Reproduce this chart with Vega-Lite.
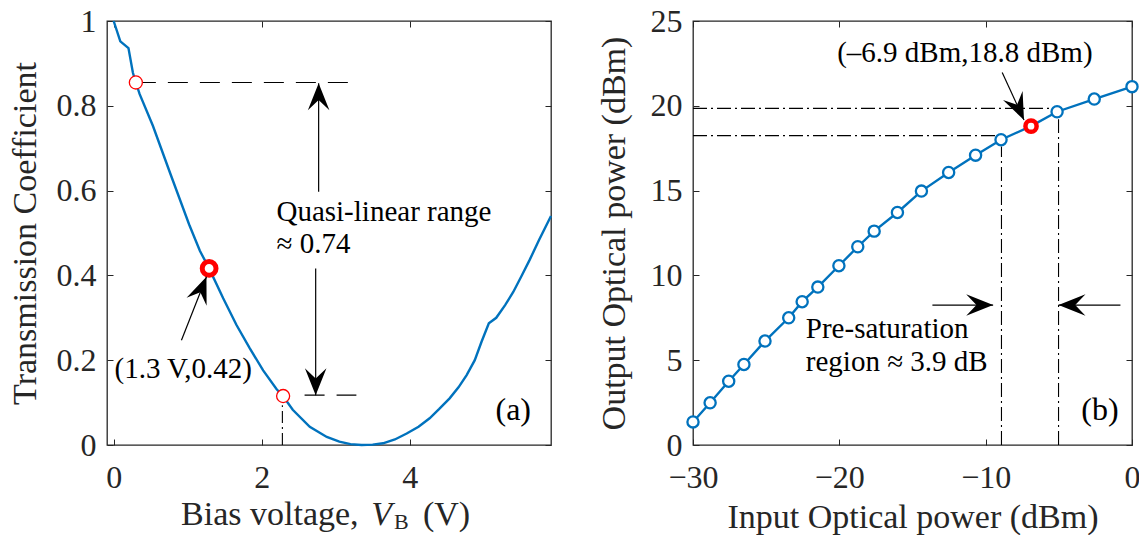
{
  "$schema": "https://vega.github.io/schema/vega-lite/v6.json",
  "background": "white",
  "padding": {"left": 7, "top": 4, "right": 0, "bottom": 0},
  "spacing": 39,
  "datasets": {
    "transmission": [
      {"v": 0.0, "t": 1.0}, {"v": 0.09, "t": 0.952}, {"v": 0.2, "t": 0.936}, {"v": 0.26, "t": 0.878},
      {"v": 0.3, "t": 0.855}, {"v": 0.35, "t": 0.828}, {"v": 0.53, "t": 0.753}, {"v": 0.77, "t": 0.638},
      {"v": 1.02, "t": 0.52}, {"v": 1.165, "t": 0.458}, {"v": 1.29, "t": 0.4165}, {"v": 1.48, "t": 0.346},
      {"v": 1.66, "t": 0.283}, {"v": 1.84, "t": 0.228}, {"v": 2.02, "t": 0.176}, {"v": 2.2, "t": 0.132},
      {"v": 2.29, "t": 0.115}, {"v": 2.42, "t": 0.083}, {"v": 2.65, "t": 0.043}, {"v": 2.88, "t": 0.019},
      {"v": 3.05, "t": 0.008}, {"v": 3.2, "t": 0.002}, {"v": 3.35, "t": 0.0}, {"v": 3.5, "t": 0.001},
      {"v": 3.64, "t": 0.004}, {"v": 3.8, "t": 0.013}, {"v": 3.96, "t": 0.027}, {"v": 4.12, "t": 0.043},
      {"v": 4.27, "t": 0.063}, {"v": 4.4, "t": 0.085}, {"v": 4.54, "t": 0.11}, {"v": 4.66, "t": 0.136},
      {"v": 4.77, "t": 0.165}, {"v": 4.88, "t": 0.2}, {"v": 4.97, "t": 0.243}, {"v": 5.07, "t": 0.287},
      {"v": 5.17, "t": 0.3}, {"v": 5.29, "t": 0.33}, {"v": 5.4, "t": 0.361}, {"v": 5.51, "t": 0.398},
      {"v": 5.62, "t": 0.436}, {"v": 5.75, "t": 0.484}, {"v": 5.91, "t": 0.54}
    ],
    "leftDashed": [
      {"v1": 0.3, "v2": 3.18, "t": 0.855},
      {"v1": 2.58, "v2": 3.28, "t": 0.1175}
    ],
    "leftDashDot": [
      {"v": 2.28, "t1": 0.0, "t2": 0.094}
    ],
    "leftRangeEnds": [
      {"v": 0.3, "t": 0.855},
      {"v": 2.29, "t": 0.1155}
    ],
    "leftBias": [
      {"v": 1.29, "t": 0.4165}
    ],
    "leftShafts": [
      {"v1": 2.77, "t1": 0.597, "v2": 2.77, "t2": 0.853},
      {"v1": 2.73, "t1": 0.4165, "v2": 2.73, "t2": 0.1175},
      {"v1": 0.916, "t1": 0.247, "v2": 1.254, "t2": 0.397}
    ],
    "leftHeadUp": [{"v": 2.77, "t": 0.853}],
    "leftHeadDown": [{"v": 2.73, "t": 0.1175}],
    "leftHeadDiag": [{"v": 1.254, "t": 0.397}],
    "leftNotes": [
      {"v": 2.2, "t": 0.528, "label": "Quasi-linear range"},
      {"v": 2.2, "t": 0.452, "label": "≈ 0.74"}
    ],
    "leftBiasNote": [{"v": 0.94, "t": 0.157, "label": "(1.3 V,0.42)"}],
    "leftPanelTag": [{"v": 5.64, "t": 0.0585, "label": "(a)"}],
    "leftTitleMain": [{"v": 3.31, "t": -0.189, "label": "Bias voltage,"}],
    "leftTitleVar": [{"v": 3.48, "t": -0.189, "label": "V"}],
    "leftTitleSub": [{"v": 3.79, "t": -0.197, "label": "B"}],
    "leftTitleUnit": [{"v": 4.18, "t": -0.189, "label": "(V)"}],
    "power": [
      {"pin": -30.0, "pout": 1.36}, {"pin": -28.83, "pout": 2.49}, {"pin": -27.56, "pout": 3.76},
      {"pin": -26.52, "pout": 4.75}, {"pin": -25.08, "pout": 6.13}, {"pin": -23.46, "pout": 7.5},
      {"pin": -22.54, "pout": 8.45}, {"pin": -21.47, "pout": 9.31}, {"pin": -20.03, "pout": 10.57},
      {"pin": -18.74, "pout": 11.69}, {"pin": -17.62, "pout": 12.61}, {"pin": -16.03, "pout": 13.71},
      {"pin": -14.39, "pout": 14.97}, {"pin": -12.53, "pout": 16.07}, {"pin": -10.69, "pout": 17.09},
      {"pin": -8.95, "pout": 18.0}, {"pin": -6.9, "pout": 18.8}, {"pin": -5.12, "pout": 19.65},
      {"pin": -2.58, "pout": 20.4}, {"pin": 0.0, "pout": 21.13}
    ],
    "operating": [{"pin": -6.9, "pout": 18.8}],
    "rightGuides": [
      {"x1": -30, "y1": 19.85, "x2": -5.2, "y2": 19.85},
      {"x1": -30, "y1": 18.24, "x2": -9.0, "y2": 18.24},
      {"x1": -8.92, "y1": 0, "x2": -8.92, "y2": 17.6},
      {"x1": -5.02, "y1": 0, "x2": -5.02, "y2": 19.2}
    ],
    "rightShafts": [
      {"x1": -8.87, "y1": 21.97, "x2": -7.38, "y2": 19.16},
      {"x1": -13.64, "y1": 8.25, "x2": -9.49, "y2": 8.25},
      {"x1": -0.79, "y1": 8.25, "x2": -5.02, "y2": 8.25}
    ],
    "rightHeadDiag": [{"pin": -7.38, "pout": 19.16}],
    "rightHeadRight": [{"pin": -9.49, "pout": 8.25}],
    "rightHeadLeft": [{"pin": -5.02, "pout": 8.25}],
    "rightNoteTop": [{"pin": -11.42, "pout": 22.6, "label": "(–6.9 dBm,18.8 dBm)"}],
    "rightNotes": [
      {"pin": -22.29, "pout": 6.28, "label": "Pre-saturation"},
      {"pin": -22.29, "pout": 4.38, "label": "region ≈ 3.9 dB"}
    ],
    "rightPanelTag": [{"pin": -0.92, "pout": 1.46, "label": "(b)"}]
  },
  "hconcat": [
    {
      "width": 444,
      "height": 424,
      "layer": [
        {
          "data": {"name": "leftDashed"},
          "mark": {"type": "rule", "color": "black", "strokeWidth": 1.2, "strokeDash": [20, 12]},
          "encoding": {
            "x": {"field": "v1", "type": "quantitative", "scale": {"domain": [-0.09, 5.91], "nice": false}, "axis": null},
            "x2": {"field": "v2"},
            "y": {"field": "t", "type": "quantitative", "scale": {"domain": [0, 1], "nice": false}, "axis": null}
          }
        },
        {
          "data": {"name": "leftDashDot"},
          "mark": {"type": "rule", "color": "black", "strokeWidth": 1.1, "strokeDash": [12, 4, 2, 4]},
          "encoding": {
            "x": {"field": "v", "type": "quantitative", "axis": null},
            "y": {"field": "t1", "type": "quantitative", "axis": null},
            "y2": {"field": "t2"}
          }
        },
        {
          "data": {"name": "transmission"},
          "mark": {"type": "line", "color": "#0072BD", "strokeWidth": 2.4},
          "encoding": {
            "x": {"field": "v", "type": "quantitative", "scale": {"domain": [-0.09, 5.91], "nice": false},
                  "axis": {"orient": "bottom", "values": [0, 2, 4], "title": null, "labelPadding": 23}},
            "y": {"field": "t", "type": "quantitative", "scale": {"domain": [0, 1], "nice": false},
                  "axis": {"orient": "left", "values": [0, 0.2, 0.4, 0.6, 0.8, 1], "format": "~g", "title": "Transmission Coefficient", "labelPadding": 17, "titlePadding": 14}}
          }
        },
        {
          "data": {"name": "leftRangeEnds"},
          "mark": {"type": "point", "shape": "circle", "filled": true, "fill": "white", "stroke": "#FF0000", "strokeWidth": 1.3, "size": 170, "opacity": 1},
          "encoding": {
            "x": {"field": "v", "type": "quantitative", "axis": null},
            "y": {"field": "t", "type": "quantitative", "axis": null}
          }
        },
        {
          "data": {"name": "leftBias"},
          "mark": {"type": "point", "shape": "circle", "filled": true, "fill": "white", "stroke": "#FF0000", "strokeWidth": 5, "size": 190, "opacity": 1},
          "encoding": {
            "x": {"field": "v", "type": "quantitative", "axis": null},
            "y": {"field": "t", "type": "quantitative", "axis": null}
          }
        },
        {
          "data": {"name": "leftShafts"},
          "mark": {"type": "rule", "color": "black", "strokeWidth": 1.2},
          "encoding": {
            "x": {"field": "v1", "type": "quantitative", "axis": null},
            "y": {"field": "t1", "type": "quantitative", "axis": null},
            "x2": {"field": "v2"},
            "y2": {"field": "t2"}
          }
        },
        {
          "data": {"name": "leftHeadUp"},
          "mark": {"type": "point", "shape": "M0,0 L0.4,1 L0,0.62 L-0.4,1 Z", "filled": true, "color": "black", "size": 2900, "angle": 0, "strokeWidth": 0, "opacity": 1},
          "encoding": {
            "x": {"field": "v", "type": "quantitative", "axis": null},
            "y": {"field": "t", "type": "quantitative", "axis": null}
          }
        },
        {
          "data": {"name": "leftHeadDown"},
          "mark": {"type": "point", "shape": "M0,0 L0.4,1 L0,0.62 L-0.4,1 Z", "filled": true, "color": "black", "size": 2900, "angle": 180, "strokeWidth": 0, "opacity": 1},
          "encoding": {
            "x": {"field": "v", "type": "quantitative", "axis": null},
            "y": {"field": "t", "type": "quantitative", "axis": null}
          }
        },
        {
          "data": {"name": "leftHeadDiag"},
          "mark": {"type": "point", "shape": "M0,0 L0.4,1 L0,0.62 L-0.4,1 Z", "filled": true, "color": "black", "size": 2900, "angle": 21.5, "strokeWidth": 0, "opacity": 1},
          "encoding": {
            "x": {"field": "v", "type": "quantitative", "axis": null},
            "y": {"field": "t", "type": "quantitative", "axis": null}
          }
        },
        {
          "data": {"name": "leftNotes"},
          "mark": {"type": "text", "align": "left", "baseline": "alphabetic", "fontSize": 29, "color": "black"},
          "encoding": {
            "x": {"field": "v", "type": "quantitative", "axis": null},
            "y": {"field": "t", "type": "quantitative", "axis": null},
            "text": {"field": "label"}
          }
        },
        {
          "data": {"name": "leftBiasNote"},
          "mark": {"type": "text", "align": "center", "baseline": "alphabetic", "fontSize": 29, "color": "black"},
          "encoding": {
            "x": {"field": "v", "type": "quantitative", "axis": null},
            "y": {"field": "t", "type": "quantitative", "axis": null},
            "text": {"field": "label"}
          }
        },
        {
          "data": {"name": "leftPanelTag"},
          "mark": {"type": "text", "align": "right", "baseline": "alphabetic", "fontSize": 32, "color": "black"},
          "encoding": {
            "x": {"field": "v", "type": "quantitative", "axis": null},
            "y": {"field": "t", "type": "quantitative", "axis": null},
            "text": {"field": "label"}
          }
        },
        {
          "data": {"name": "leftTitleMain"},
          "mark": {"type": "text", "align": "right", "baseline": "alphabetic", "fontSize": 34, "color": "#262626", "clip": false},
          "encoding": {
            "x": {"field": "v", "type": "quantitative", "axis": null},
            "y": {"field": "t", "type": "quantitative", "axis": null},
            "text": {"field": "label"}
          }
        },
        {
          "data": {"name": "leftTitleVar"},
          "mark": {"type": "text", "align": "left", "baseline": "alphabetic", "fontSize": 34, "fontStyle": "italic", "color": "#262626", "clip": false},
          "encoding": {
            "x": {"field": "v", "type": "quantitative", "axis": null},
            "y": {"field": "t", "type": "quantitative", "axis": null},
            "text": {"field": "label"}
          }
        },
        {
          "data": {"name": "leftTitleSub"},
          "mark": {"type": "text", "align": "left", "baseline": "alphabetic", "fontSize": 22, "color": "#262626", "clip": false},
          "encoding": {
            "x": {"field": "v", "type": "quantitative", "axis": null},
            "y": {"field": "t", "type": "quantitative", "axis": null},
            "text": {"field": "label"}
          }
        },
        {
          "data": {"name": "leftTitleUnit"},
          "mark": {"type": "text", "align": "left", "baseline": "alphabetic", "fontSize": 34, "color": "#262626", "clip": false},
          "encoding": {
            "x": {"field": "v", "type": "quantitative", "axis": null},
            "y": {"field": "t", "type": "quantitative", "axis": null},
            "text": {"field": "label"}
          }
        },
        {
          "data": {"name": "transmission"},
          "mark": {"type": "line", "opacity": 0},
          "encoding": {
            "x": {"field": "v", "type": "quantitative",
                  "axis": {"orient": "top", "values": [0, 2, 4], "labels": false, "title": null}},
            "y": {"field": "t", "type": "quantitative",
                  "axis": {"orient": "right", "values": [0, 0.2, 0.4, 0.6, 0.8, 1], "labels": false, "title": null}}
          }
        }
      ],
      "resolve": {"axis": {"x": "independent", "y": "independent"}}
    },
    {
      "width": 439,
      "height": 424,
      "layer": [
        {
          "data": {"name": "rightGuides"},
          "mark": {"type": "rule", "color": "black", "strokeWidth": 1.1, "strokeDash": [14, 4, 2, 4]},
          "encoding": {
            "x": {"field": "x1", "type": "quantitative", "scale": {"domain": [-30, 0], "nice": false}, "axis": null},
            "y": {"field": "y1", "type": "quantitative", "scale": {"domain": [0, 25], "nice": false}, "axis": null},
            "x2": {"field": "x2"},
            "y2": {"field": "y2"}
          }
        },
        {
          "data": {"name": "power"},
          "mark": {"type": "line", "color": "#0072BD", "strokeWidth": 2.4},
          "encoding": {
            "x": {"field": "pin", "type": "quantitative", "scale": {"domain": [-30, 0], "nice": false},
                  "axis": {"orient": "bottom", "values": [-30, -20, -10, 0], "title": "Input Optical power (dBm)", "labelPadding": 23, "titlePadding": 7}},
            "y": {"field": "pout", "type": "quantitative", "scale": {"domain": [0, 25], "nice": false},
                  "axis": {"orient": "left", "values": [0, 5, 10, 15, 20, 25], "title": "Output Optical power (dBm)", "labelPadding": 17, "titlePadding": 19}}
          }
        },
        {
          "data": {"name": "power"},
          "mark": {"type": "point", "shape": "circle", "filled": true, "fill": "white", "stroke": "#0072BD", "strokeWidth": 2.3, "size": 125, "opacity": 1},
          "encoding": {
            "x": {"field": "pin", "type": "quantitative", "axis": null},
            "y": {"field": "pout", "type": "quantitative", "axis": null}
          }
        },
        {
          "data": {"name": "operating"},
          "mark": {"type": "point", "shape": "circle", "filled": true, "fill": "white", "stroke": "#FF0000", "strokeWidth": 4.5, "size": 125, "opacity": 1},
          "encoding": {
            "x": {"field": "pin", "type": "quantitative", "axis": null},
            "y": {"field": "pout", "type": "quantitative", "axis": null}
          }
        },
        {
          "data": {"name": "rightShafts"},
          "mark": {"type": "rule", "color": "black", "strokeWidth": 1.2},
          "encoding": {
            "x": {"field": "x1", "type": "quantitative", "axis": null},
            "y": {"field": "y1", "type": "quantitative", "axis": null},
            "x2": {"field": "x2"},
            "y2": {"field": "y2"}
          }
        },
        {
          "data": {"name": "rightHeadDiag"},
          "mark": {"type": "point", "shape": "M0,0 L0.4,1 L0,0.62 L-0.4,1 Z", "filled": true, "color": "black", "size": 2900, "angle": 155.4, "strokeWidth": 0, "opacity": 1},
          "encoding": {
            "x": {"field": "pin", "type": "quantitative", "axis": null},
            "y": {"field": "pout", "type": "quantitative", "axis": null}
          }
        },
        {
          "data": {"name": "rightHeadRight"},
          "mark": {"type": "point", "shape": "M0,0 L0.4,1 L0,0.62 L-0.4,1 Z", "filled": true, "color": "black", "size": 2900, "angle": 90, "strokeWidth": 0, "opacity": 1},
          "encoding": {
            "x": {"field": "pin", "type": "quantitative", "axis": null},
            "y": {"field": "pout", "type": "quantitative", "axis": null}
          }
        },
        {
          "data": {"name": "rightHeadLeft"},
          "mark": {"type": "point", "shape": "M0,0 L0.4,1 L0,0.62 L-0.4,1 Z", "filled": true, "color": "black", "size": 2900, "angle": 270, "strokeWidth": 0, "opacity": 1},
          "encoding": {
            "x": {"field": "pin", "type": "quantitative", "axis": null},
            "y": {"field": "pout", "type": "quantitative", "axis": null}
          }
        },
        {
          "data": {"name": "rightNoteTop"},
          "mark": {"type": "text", "align": "center", "baseline": "alphabetic", "fontSize": 29, "color": "black"},
          "encoding": {
            "x": {"field": "pin", "type": "quantitative", "axis": null},
            "y": {"field": "pout", "type": "quantitative", "axis": null},
            "text": {"field": "label"}
          }
        },
        {
          "data": {"name": "rightNotes"},
          "mark": {"type": "text", "align": "left", "baseline": "alphabetic", "fontSize": 29, "color": "black"},
          "encoding": {
            "x": {"field": "pin", "type": "quantitative", "axis": null},
            "y": {"field": "pout", "type": "quantitative", "axis": null},
            "text": {"field": "label"}
          }
        },
        {
          "data": {"name": "rightPanelTag"},
          "mark": {"type": "text", "align": "right", "baseline": "alphabetic", "fontSize": 32, "color": "black"},
          "encoding": {
            "x": {"field": "pin", "type": "quantitative", "axis": null},
            "y": {"field": "pout", "type": "quantitative", "axis": null},
            "text": {"field": "label"}
          }
        },
        {
          "data": {"name": "power"},
          "mark": {"type": "line", "opacity": 0},
          "encoding": {
            "x": {"field": "pin", "type": "quantitative",
                  "axis": {"orient": "top", "values": [-30, -20, -10, 0], "labels": false, "title": null}},
            "y": {"field": "pout", "type": "quantitative",
                  "axis": {"orient": "right", "values": [0, 5, 10, 15, 20, 25], "labels": false, "title": null}}
          }
        }
      ],
      "resolve": {"axis": {"x": "independent", "y": "independent"}}
    }
  ],
  "config": {
    "font": "Liberation Serif",
    "view": {"stroke": "#262626", "strokeWidth": 1.3},
    "axis": {
      "domain": false,
      "grid": false,
      "labelFont": "Liberation Serif",
      "labelFontSize": 32,
      "labelColor": "#262626",
      "tickColor": "#262626",
      "tickSize": -6,
      "tickWidth": 1,
      "titleFont": "Liberation Serif",
      "titleFontSize": 34,
      "titleFontWeight": "normal",
      "titleColor": "#262626",
      "labelFlush": false,
      "labelOverlap": false
    },
    "text": {"font": "Liberation Serif"}
  }
}
